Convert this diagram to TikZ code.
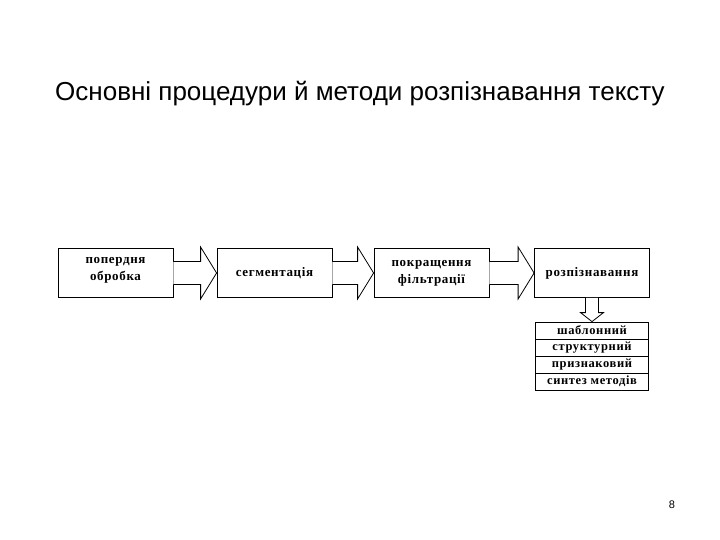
\documentclass[tikz,border=0pt]{standalone}
\usepackage{fontspec}
\setmainfont{Liberation Serif}
\newfontfamily\mytitlefam{Liberation Sans}
\newfontfamily\myboxfam{Liberation Serif Bold}[LetterSpace=5]
\newcommand\myboxfont{\myboxfam\fontsize{13}{17}\selectfont}
\newcommand\mycellfont{\myboxfam\fontsize{12.5}{12}\selectfont}
\usetikzlibrary{calc}
\begin{document}
\begin{tikzpicture}[x=1pt,y=-1pt,
  box/.style={draw,line width=0.8pt,fill=white,minimum width=115pt,minimum height=49pt,inner sep=0pt,align=center,font=\myboxfont},
  cell/.style={draw,line width=0.8pt,fill=white,minimum width=113pt,minimum height=17pt,inner sep=0pt,font=\mycellfont},
  barrow/.style={draw,line width=0.8pt,fill=white,line join=miter}]
\useasboundingbox[fill=white] (0,0) rectangle (720,540);
\node[font=\mytitlefam\fontsize{26}{30}\selectfont,anchor=base,inner sep=0pt] (title) at (360,101) {Основні процедури й методи розпізнавання тексту};
\node[box] (b1) at (115.5,273) {попердня\\обробка\rule[-8pt]{0pt}{1pt}};
\node[box] (b2) at (274.5,273) {сегментація};
\node[box] (b3) at (431.5,273) {покращення\\фільтрації};
\node[box] (b4) at (592,273) {розпізнавання};
\node[cell] (t1) at (592,330.5) {шаблонний};
\node[cell] (t2) at (592,347.5) {структурний};
\node[cell] (t3) at (592,364.5) {признаковий};
\node[cell] (t4) at (592,381.5) {синтез методів};
\foreach \a/\b in {b1/b2,b2/b3,b3/b4}{
  \draw[barrow] ($(\a.east)+(0,-11.5)$) -| ($(\b.west)+(-16,-26)$) -- (\b.west) -- ($(\b.west)+(-16,26)$) |- ($(\a.east)+(0,11.5)$);
}
\draw[barrow] ($(b4.south)+(-6.5,0)$) -- ($(t1.north)+(-6.5,-9)$) -- ($(t1.north)+(-11.5,-9)$) -- (t1.north) -- ($(t1.north)+(11.5,-9)$) -- ($(t1.north)+(6.5,-9)$) -- ($(b4.south)+(6.5,0)$);
\node[font=\mytitlefam\fontsize{11}{13}\selectfont,inner sep=0pt] (pg) at (672,505) {8};
\end{tikzpicture}
\end{document}
